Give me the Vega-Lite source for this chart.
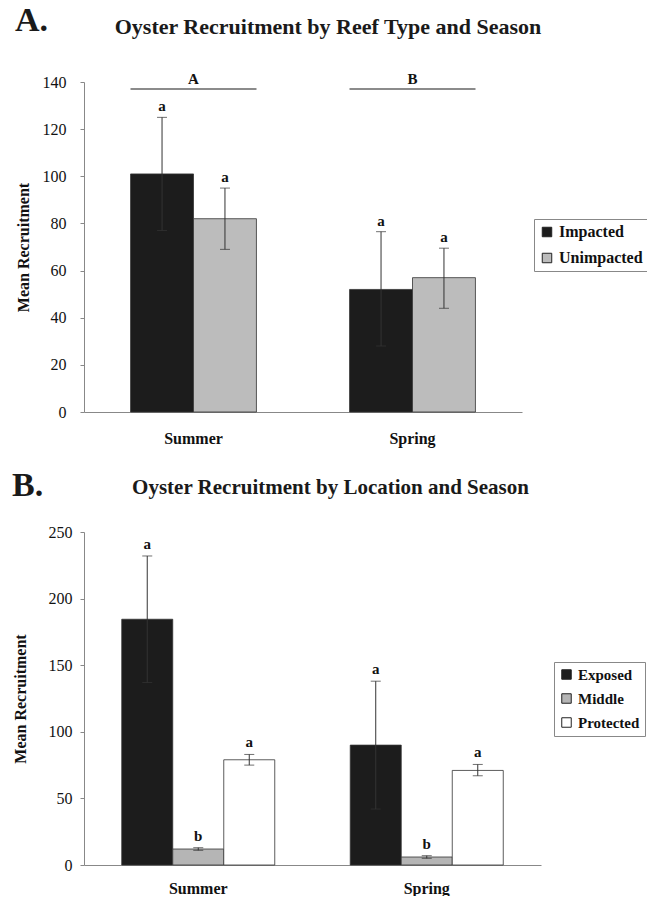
{
  "$schema": "https://vega.github.io/schema/vega-lite/v6.json",
  "padding": {"left": 12, "top": 4, "right": 0, "bottom": 0},
  "background": "white",
  "config": {
    "font": "Liberation Serif",
    "view": {"stroke": null},
    "axis": {"grid": false, "domainColor": "#888", "tickColor": "#888", "labelColor": "#111", "titleColor": "#111"},
    "title": {"color": "#1a1a1a", "font": "Liberation Serif", "fontWeight": "bold"},
    "legend": {"labelFont": "Liberation Serif", "labelFontWeight": "bold", "labelColor": "#111"}
  },
  "resolve": {
    "scale": {"color": "independent", "xOffset": "independent", "x": "independent", "y": "independent"},
    "legend": {"color": "independent"}
  },
  "datasets": {
    "reef": [
      {"season": "Summer", "type": "Impacted", "mean": 101, "lo": 77, "hi": 125, "letter": "a"},
      {"season": "Summer", "type": "Unimpacted", "mean": 82, "lo": 69, "hi": 95, "letter": "a"},
      {"season": "Spring", "type": "Impacted", "mean": 52, "lo": 28, "hi": 76.5, "letter": "a"},
      {"season": "Spring", "type": "Unimpacted", "mean": 57, "lo": 44, "hi": 69.5, "letter": "a"}
    ],
    "groups": [
      {"season": "Summer", "label": "A", "level": 137},
      {"season": "Spring", "label": "B", "level": 137}
    ],
    "loc": [
      {"season": "Summer", "location": "Exposed", "mean": 184.5, "lo": 137, "hi": 232, "letter": "a"},
      {"season": "Summer", "location": "Middle", "mean": 12, "lo": 11, "hi": 13, "letter": "b"},
      {"season": "Summer", "location": "Protected", "mean": 79, "lo": 75, "hi": 83, "letter": "a"},
      {"season": "Spring", "location": "Exposed", "mean": 90, "lo": 42, "hi": 138, "letter": "a"},
      {"season": "Spring", "location": "Middle", "mean": 6, "lo": 5, "hi": 7, "letter": "b"},
      {"season": "Spring", "location": "Protected", "mean": 71, "lo": 67, "hi": 75.5, "letter": "a"}
    ]
  },
  "spacing": 23,
  "vconcat": [
    {
      "title": {"text": "A.", "anchor": "start", "fontSize": 34, "offset": -22},
      "vconcat": [
        {
          "width": 438,
          "height": 330,
          "title": {"text": "Oyster Recruitment by Reef Type and Season", "fontSize": 22, "anchor": "middle", "offset": 33, "dx": 25},
          "layer": [
            {
              "data": {"name": "reef"},
              "mark": {"type": "bar", "stroke": "#333", "strokeWidth": 0.8},
              "encoding": {
                "x": {"field": "season", "type": "nominal", "sort": ["Summer", "Spring"],
                  "scale": {"paddingInner": 0, "paddingOuter": 0},
                  "axis": {"title": null, "labelAngle": 0, "ticks": false, "labelFontSize": 16, "labelFontWeight": "bold", "labelPadding": 18}},
                "xOffset": {"field": "type", "type": "nominal", "sort": ["Impacted", "Unimpacted"], "scale": {"paddingOuter": 0.74, "paddingInner": 0}},
                "y": {"field": "mean", "type": "quantitative", "scale": {"domain": [0, 140], "nice": false},
                  "axis": {"title": "Mean Recruitment", "values": [0, 20, 40, 60, 80, 100, 120, 140], "labelFontSize": 16, "tickSize": 4, "labelPadding": 14, "titleFontSize": 16, "titleFontWeight": "bold", "titlePadding": 11}},
                "color": {"field": "type", "type": "nominal", "sort": ["Impacted", "Unimpacted"],
                  "scale": {"domain": ["Impacted", "Unimpacted"], "range": ["#1c1c1c", "#bcbcbc"]},
                  "legend": {"title": null, "orient": "none", "legendX": 450, "legendY": 137, "symbolType": "square", "symbolSize": 90, "symbolStrokeColor": "#222", "symbolStrokeWidth": 1, "labelFontSize": 16, "rowPadding": 10, "padding": 5, "strokeColor": "#888", "fillColor": "white"}}
              }
            },
            {
              "data": {"name": "reef"},
              "mark": {"type": "rule", "color": "#333", "strokeWidth": 1},
              "encoding": {
                "x": {"field": "season", "type": "nominal", "sort": ["Summer", "Spring"]},
                "xOffset": {"field": "type", "type": "nominal", "sort": ["Impacted", "Unimpacted"]},
                "y": {"field": "lo", "type": "quantitative"},
                "y2": {"field": "hi"}
              }
            },
            {
              "data": {"name": "reef"},
              "mark": {"type": "tick", "color": "#333", "size": 10, "thickness": 1},
              "encoding": {
                "x": {"field": "season", "type": "nominal", "sort": ["Summer", "Spring"]},
                "xOffset": {"field": "type", "type": "nominal", "sort": ["Impacted", "Unimpacted"]},
                "y": {"field": "hi", "type": "quantitative"}
              }
            },
            {
              "data": {"name": "reef"},
              "mark": {"type": "tick", "color": "#333", "size": 10, "thickness": 1},
              "encoding": {
                "x": {"field": "season", "type": "nominal", "sort": ["Summer", "Spring"]},
                "xOffset": {"field": "type", "type": "nominal", "sort": ["Impacted", "Unimpacted"]},
                "y": {"field": "lo", "type": "quantitative"}
              }
            },
            {
              "data": {"name": "reef"},
              "mark": {"type": "text", "fontSize": 15, "fontWeight": "bold", "baseline": "bottom", "dy": -3, "color": "#111"},
              "encoding": {
                "x": {"field": "season", "type": "nominal", "sort": ["Summer", "Spring"]},
                "xOffset": {"field": "type", "type": "nominal", "sort": ["Impacted", "Unimpacted"]},
                "y": {"field": "hi", "type": "quantitative"},
                "text": {"field": "letter"}
              }
            },
            {
              "data": {"name": "groups"},
              "mark": {"type": "tick", "color": "#222", "size": 126, "thickness": 1.5},
              "encoding": {
                "x": {"field": "season", "type": "nominal", "sort": ["Summer", "Spring"]},
                "y": {"field": "level", "type": "quantitative"}
              }
            },
            {
              "data": {"name": "groups"},
              "mark": {"type": "text", "fontSize": 15, "fontWeight": "bold", "baseline": "bottom", "dy": -2, "color": "#111"},
              "encoding": {
                "x": {"field": "season", "type": "nominal", "sort": ["Summer", "Spring"]},
                "y": {"field": "level", "type": "quantitative"},
                "text": {"field": "label"}
              }
            }
          ]
        }
      ]
    },
    {
      "title": {"text": "B.", "anchor": "start", "fontSize": 34, "offset": -26},
      "vconcat": [
        {
          "width": 457,
          "height": 333,
          "title": {"text": "Oyster Recruitment by Location and Season", "fontSize": 21, "anchor": "middle", "offset": 26, "dx": 18},
          "layer": [
            {
              "data": {"name": "loc"},
              "mark": {"type": "bar", "stroke": "#333", "strokeWidth": 0.8},
              "encoding": {
                "x": {"field": "season", "type": "nominal", "sort": ["Summer", "Spring"],
                  "scale": {"paddingInner": 0, "paddingOuter": 0},
                  "axis": {"title": null, "labelAngle": 0, "ticks": false, "labelFontSize": 16, "labelFontWeight": "bold", "labelPadding": 15}},
                "xOffset": {"field": "location", "type": "nominal", "sort": ["Exposed", "Middle", "Protected"], "scale": {"paddingOuter": 0.74, "paddingInner": 0}},
                "y": {"field": "mean", "type": "quantitative", "scale": {"domain": [0, 250], "nice": false},
                  "axis": {"title": "Mean Recruitment", "values": [0, 50, 100, 150, 200, 250], "labelFontSize": 16, "tickSize": 4, "labelPadding": 8, "titleFontSize": 16, "titleFontWeight": "bold", "titlePadding": 20}},
                "color": {"field": "location", "type": "nominal", "sort": ["Exposed", "Middle", "Protected"],
                  "scale": {"domain": ["Exposed", "Middle", "Protected"], "range": ["#1c1c1c", "#b5b5b5", "#ffffff"]},
                  "legend": {"title": null, "orient": "none", "legendX": 470, "legendY": 130, "symbolType": "square", "symbolSize": 90, "symbolStrokeColor": "#222", "symbolStrokeWidth": 1, "labelFontSize": 15, "rowPadding": 8, "padding": 5, "strokeColor": "#888", "fillColor": "white"}}
              }
            },
            {
              "data": {"name": "loc"},
              "mark": {"type": "rule", "color": "#333", "strokeWidth": 1},
              "encoding": {
                "x": {"field": "season", "type": "nominal", "sort": ["Summer", "Spring"]},
                "xOffset": {"field": "location", "type": "nominal", "sort": ["Exposed", "Middle", "Protected"]},
                "y": {"field": "lo", "type": "quantitative"},
                "y2": {"field": "hi"}
              }
            },
            {
              "data": {"name": "loc"},
              "mark": {"type": "tick", "color": "#333", "size": 10, "thickness": 1},
              "encoding": {
                "x": {"field": "season", "type": "nominal", "sort": ["Summer", "Spring"]},
                "xOffset": {"field": "location", "type": "nominal", "sort": ["Exposed", "Middle", "Protected"]},
                "y": {"field": "hi", "type": "quantitative"}
              }
            },
            {
              "data": {"name": "loc"},
              "mark": {"type": "tick", "color": "#333", "size": 10, "thickness": 1},
              "encoding": {
                "x": {"field": "season", "type": "nominal", "sort": ["Summer", "Spring"]},
                "xOffset": {"field": "location", "type": "nominal", "sort": ["Exposed", "Middle", "Protected"]},
                "y": {"field": "lo", "type": "quantitative"}
              }
            },
            {
              "data": {"name": "loc"},
              "mark": {"type": "text", "fontSize": 15, "fontWeight": "bold", "baseline": "bottom", "dy": -4, "color": "#111"},
              "encoding": {
                "x": {"field": "season", "type": "nominal", "sort": ["Summer", "Spring"]},
                "xOffset": {"field": "location", "type": "nominal", "sort": ["Exposed", "Middle", "Protected"]},
                "y": {"field": "hi", "type": "quantitative"},
                "text": {"field": "letter"}
              }
            }
          ]
        }
      ]
    }
  ]
}
